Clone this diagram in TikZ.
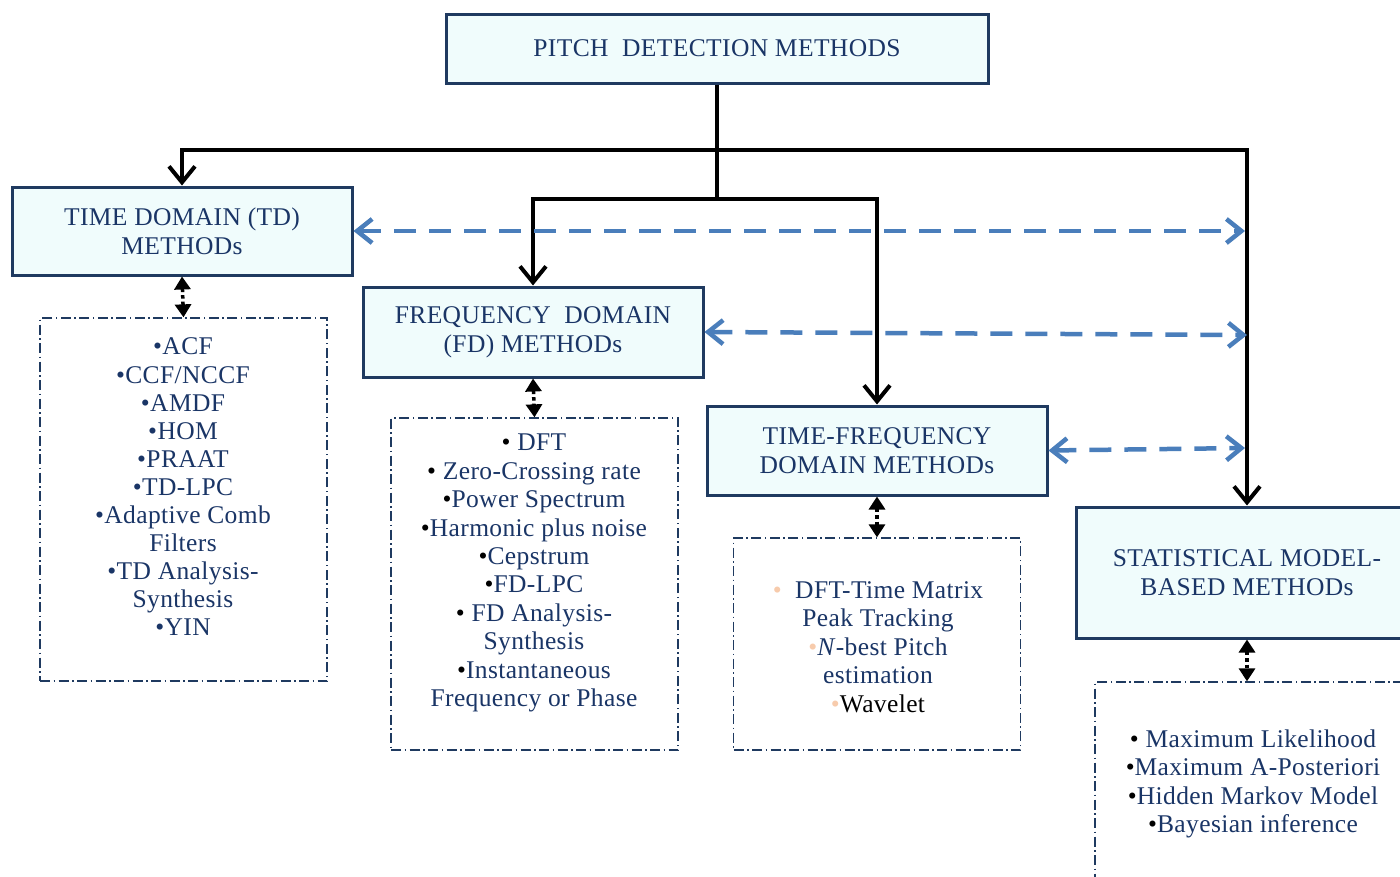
\documentclass[tikz,border=0pt]{standalone}
\usepackage{fontspec}
\setmainfont{Liberation Serif}[LetterSpace=1.5]
\usetikzlibrary{arrows.meta}
\definecolor{navy}{HTML}{1A3566}
\definecolor{boxfill}{HTML}{F0FCFC}
\definecolor{boxline}{HTML}{1F3A60}
\definecolor{dashblue}{HTML}{4A7EBB}
\definecolor{peach}{HTML}{F7CBAC}
\newcommand{\blt}{\textcolor{black}{•}}
\newcommand{\plt}{\textcolor{peach}{•}}
\tikzset{
  headbox/.style={draw=boxline, line width=3pt, fill=boxfill, text=navy, align=center,
    font=\fontsize{25.5}{29}\selectfont, inner sep=0pt},
  listbox/.style={draw=boxline, line width=1.3pt, dash pattern=on 10pt off 3.5pt on 1.5pt off 3.5pt, inner sep=0pt},
  listtext/.style={text=navy, align=center, inner sep=0pt},
  tree/.style={line width=4pt, -{Straight Barb[length=16pt,width=26pt]}},
  peer/.style={draw=dashblue, line width=4.5pt, dash pattern=on 22pt off 13pt,
    {Straight Barb[length=15pt,width=24pt]}-{Straight Barb[length=15pt,width=24pt]}},
  link/.style={line width=3.5pt, dash pattern=on 3.5pt off 3pt,
    {Triangle[length=13pt,width=16pt]}-{Triangle[length=13pt,width=16pt]}}
}
\begin{document}
\begin{tikzpicture}[x=1pt,y=-1pt]
\useasboundingbox (0,0) rectangle (1400,876);
% header boxes
\node[headbox, minimum width=542pt, minimum height=69pt] (top) at (717,48.5) {PITCH\ \ DETECTION METHODS};
\node[headbox, minimum width=340pt, minimum height=88pt] (TD) at (182,231) {TIME DOMAIN (TD)\\METHODs};
\node[headbox, minimum width=340pt, minimum height=90pt] (FD) at (533,332) {FREQUENCY\ \ DOMAIN\\(FD) METHODs};
\node[headbox, minimum width=340pt, minimum height=89pt] (TF) at (877,450.5) {TIME-FREQUENCY\\DOMAIN METHODs};
\node[headbox, minimum width=342pt, minimum height=131pt] (SM) at (1247,572.5) {STATISTICAL MODEL-\\BASED METHODs};
% list boxes
\node[listbox, minimum width=287pt, minimum height=363pt] (TDL) at (183.5,499.5) {};
\node[listbox, minimum width=287pt, minimum height=332pt] (FDL) at (534.5,584) {};
\node[listbox, minimum width=287pt, minimum height=212pt] (TFL) at (877,644) {};
\node[listbox, minimum width=330pt, minimum height=240pt] (SML) at (1260,802) {};
% list texts
\node[listtext, font=\fontsize{25.5}{28.1}\selectfont] (TDT) at (183,487)
  {•ACF\\•CCF/NCCF\\•AMDF\\•HOM\\•PRAAT\\•TD-LPC\\•Adaptive Comb\\Filters\\•TD Analysis-\\Synthesis\\•YIN};
\node[listtext, font=\fontsize{25.5}{28.4}\selectfont] (FDT) at (534,573)
  {\blt\ DFT\\\blt\ Zero-Crossing rate\\\blt Power Spectrum\\\blt Harmonic plus noise\\\blt Cepstrum\\\blt FD-LPC\\\blt\ FD Analysis-\\Synthesis\\\blt Instantaneous\\Frequency or Phase};
\node[listtext, font=\fontsize{25.5}{28.5}\selectfont] (TFT) at (878,647)
  {\plt\ \ DFT-Time Matrix\\Peak Tracking\\\plt\textit{N}-best Pitch\\estimation\\\plt\textcolor{black}{Wavelet}};
\node[listtext, font=\fontsize{25.5}{28.3}\selectfont] (SMT) at (1253,784)
  {\blt\ Maximum Likelihood\\\blt Maximum A-Posteriori\\\blt Hidden Markov Model\\\blt Bayesian inference};
% tree connectors
\coordinate (j1) at (717,150);
\coordinate (j2) at (717,199);
\draw[line width=4pt] (top.south) -- (j2);
\draw[tree] (j1) -| (TD.north);
\draw[tree] (j1) -| (SM.north);
\draw[tree] (j2) -| (FD.north);
\draw[tree] (j2) -| (TF.north);
% peer (dashed blue) connectors
\coordinate (r1) at (1245,231);
\coordinate (r2) at (1247,335);
\coordinate (r3) at (1245,448);
\draw[peer] (TD.east) -- (r1);
\draw[peer] (FD.east) -- (r2);
\draw[peer] (TF.east) -- (r3);
% box-to-list links
\draw[link] (TD.south) -- (TDL.north);
\draw[link] (FD.south) -- (FDL.north);
\draw[link] (TF.south) -- (TFL.north);
\draw[link] (SM.south) -- (SML.north -| SM.south);
\end{tikzpicture}
\end{document}
